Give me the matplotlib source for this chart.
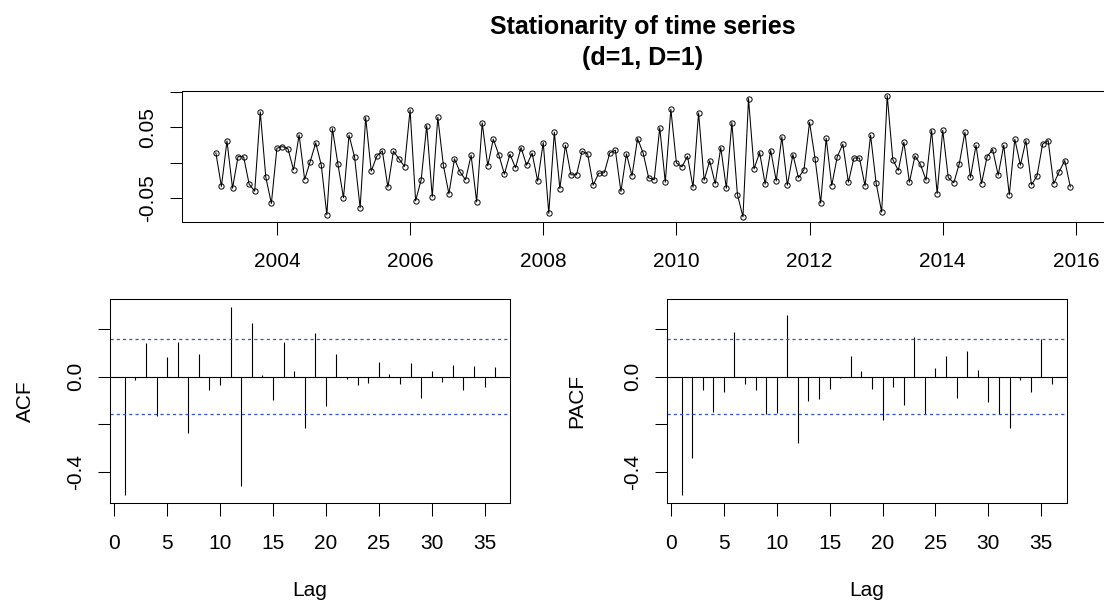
import numpy as np
import matplotlib
matplotlib.use("Agg")
import matplotlib.pyplot as plt

plt.rcParams['font.family'] = ['Liberation Sans', 'DejaVu Sans']

# ---------------- data ----------------
title_lines = ["Stationarity of time series", "(d=1, D=1)"]
start_year = 2003
start_month = 2
series = [
    0.0137, -0.0341, 0.0308, -0.0365, 0.0085, 0.0081, -0.0308, -0.0408, 0.0720, -0.0209,
    -0.0583, 0.0204, 0.0228, 0.0194, -0.0104, 0.0393, -0.0242, 0.0014, 0.0280, -0.0038,
    -0.0744, 0.0483, -0.0024, -0.0502, 0.0389, 0.0076, -0.0645, 0.0640, -0.0123, 0.0090,
    0.0166, -0.0351, 0.0161, 0.0052, -0.0057, 0.0749, -0.0545, -0.0246, 0.0526, -0.0488,
    0.0645, -0.0038, -0.0446, 0.0052, -0.0133, -0.0246, 0.0104, -0.0559, 0.0564, -0.0047,
    0.0332, 0.0109, -0.0166, 0.0119, -0.0076, 0.0213, -0.0038, 0.0133, -0.0265, 0.0284,
    -0.0725, 0.0431, -0.0370, 0.0246, -0.0175, -0.0175, 0.0161, 0.0123, -0.0322, -0.0152,
    -0.0147, 0.0137, 0.0175, -0.0412, 0.0123, -0.0190, 0.0341, 0.0137, -0.0218, -0.0246,
    0.0493, -0.0280, 0.0758, -0.0005, -0.0062, 0.0090, -0.0351, 0.0706, -0.0251, 0.0024,
    -0.0303, 0.0213, -0.0365, 0.0569, -0.0455, -0.0773, 0.0910, -0.0090, 0.0142, -0.0308,
    0.0171, -0.0261, 0.0365, -0.0322, 0.0114, -0.0218, -0.0100, 0.0574, 0.0052, -0.0578,
    0.0346, -0.0327, 0.0085, 0.0261, -0.0280, 0.0066, 0.0062, -0.0332, 0.0389, -0.0294,
    -0.0706, 0.0953, 0.0043, -0.0114, 0.0289, -0.0280, 0.0095, -0.0028, -0.0251, 0.0455,
    -0.0441, 0.0460, -0.0213, -0.0289, -0.0014, 0.0431, -0.0213, 0.0246, -0.0299, 0.0085,
    0.0185, -0.0180, 0.0246, -0.0460, 0.0332, -0.0038, 0.0313, -0.0318, -0.0190, 0.0261,
    0.0313, -0.0303, -0.0128, 0.0028, -0.0346,
]
year_ticks = [2004, 2006, 2008, 2010, 2012, 2014, 2016]
ts_ticks = [-0.05, 0.0, 0.05, 0.10]
ts_ticklabels = ['-0.05', '', '0.05', '']

lags = list(range(1, 37))
acf_vals = [
    -0.497, -0.014, 0.143, -0.163, 0.083, 0.146, -0.236, 0.094, -0.057, -0.036,
    0.294, -0.458, 0.224, 0.006, -0.100, 0.144, 0.024, -0.215, 0.183, -0.124,
    0.093, -0.011, -0.033, -0.025, 0.061, 0.013, -0.032, 0.056, -0.090, 0.024,
    -0.024, 0.049, -0.054, 0.043, -0.043, 0.040,
]
pacf_vals = [
    -0.497, -0.343, -0.056, -0.147, -0.064, 0.189, -0.029, -0.056, -0.156, -0.153,
    0.257, -0.279, -0.103, -0.092, -0.050, -0.007, 0.088, 0.024, -0.053, -0.183,
    -0.042, -0.121, 0.165, -0.157, 0.036, 0.086, -0.090, 0.107, 0.029, -0.108,
    -0.156, -0.214, -0.013, -0.065, 0.158, -0.031,
]
lag_ticks = [0, 5, 10, 15, 20, 25, 30, 35]
acf_ticks = [-0.4, -0.2, 0.0, 0.2]
acf_ticklabels = ['-0.4', '', '0.0', '']

# ---------------- helpers ----------------
W, H = 1104, 605
FS = 15
LW = 0.75


def rlim(lo, hi):
    d = (hi - lo) * 0.04
    return lo - d, hi + d


def px_axes(fig, left, top, right, bottom):
    return fig.add_axes([left / W, 1 - bottom / H, (right - left) / W, (bottom - top) / H])


def style(ax, xpad, ypad):
    for s in ax.spines.values():
        s.set_linewidth(LW)
        s.set_color('black')
    ax.tick_params(axis='both', length=9, width=LW, labelsize=FS, color='black')
    ax.tick_params(axis='x', pad=xpad)
    ax.tick_params(axis='y', pad=ypad, labelrotation=90)
    for lab in ax.get_yticklabels():
        lab.set_va('center')


fig = plt.figure(figsize=(W / 100, H / 100), dpi=100)

# ---------------- top: time series ----------------
n = len(series)
t = start_year + (start_month - 1 + np.arange(n)) / 12.0
ax = px_axes(fig, 181.7, 90.7, 1104.5, 221.7)
ax.plot(t, series, color='black', lw=LW, marker='o', ms=3.8, mfc='none',
        mec='black', mew=0.7)
ax.set_xlim(*rlim(t.min(), t.max()))
ax.set_ylim(*rlim(min(series), max(series)))
ax.set_xticks(year_ticks)
ax.set_xticklabels([str(y) for y in year_ticks])
ax.set_yticks(ts_ticks)
ax.set_yticklabels(ts_ticklabels)
style(ax, 12.7, 8.4)

fig.text(643 / W, 1 - 27 / H, title_lines[0], ha='center', va='center',
         fontsize=18, fontweight='bold')
fig.text(643 / W, 1 - 58 / H, title_lines[1], ha='center', va='center',
         fontsize=18, fontweight='bold')

# ---------------- bottom: ACF / PACF ----------------
ci = 1.96 / np.sqrt(n)
all_vals = acf_vals + pacf_vals + [ci, -ci]
ylim = rlim(min(all_vals), max(all_vals))
xlim = rlim(min(lags), max(lags))

panels = [
    (acf_vals, 'ACF', 110.0, 510.0, 25.0),
    (pacf_vals, 'PACF', 666.7, 1066.7, 576.7),
]
for vals, name, left, right, labx in panels:
    a = px_axes(fig, left, 299.0, right, 502.7)
    a.vlines(lags, 0, vals, color='black', lw=0.8)
    a.axhline(0, color='black', lw=0.8)
    for c in (ci, -ci):
        a.axhline(c, color='#3550d8', lw=0.9, ls=(0, (2.5, 2.5)), snap=True)
    a.set_xlim(*xlim)
    a.set_ylim(*ylim)
    a.set_xticks(lag_ticks)
    a.set_xticklabels([str(v) for v in lag_ticks])
    a.set_yticks(acf_ticks)
    a.set_yticklabels(acf_ticklabels)
    style(a, 13.5, 8.9)
    fig.text(labx / W, 1 - 401 / H, name, rotation=90, ha='center', va='center',
             fontsize=FS)
    fig.text((left + right) / 2 / W, 1 - 590 / H, 'Lag', ha='center', va='center',
             fontsize=FS)

fig.savefig('out.png', dpi=100)
